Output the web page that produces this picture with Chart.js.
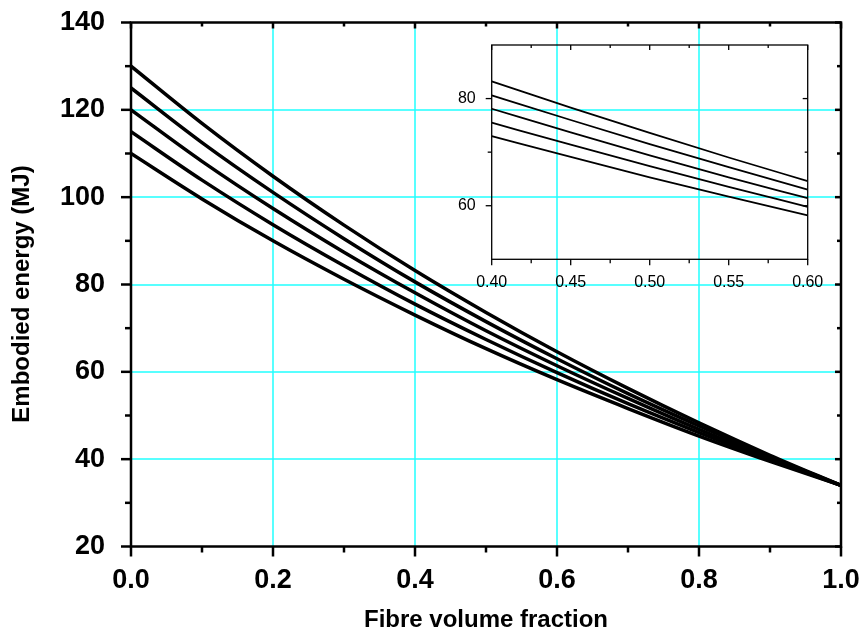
<!DOCTYPE html>
<html lang="en">
<head>
<meta charset="UTF-8">
<title>Embodied energy vs fibre volume fraction</title>
<script src="https://cdn.jsdelivr.net/npm/chart.js@4"></script>
<style>
    body {
        margin: 0;
        background: #fff;
    }
    #wrap {
        position: relative;
        width: 863px;
        height: 635px;
    }
    #main {
        position: absolute;
        left: 0;
        top: 0;
    }
    #inset {
        position: absolute;
        left: 440px;
        top: 30px;
    }
</style>
</head>
<body>

<div id="wrap">
    <canvas id="main" width="863" height="635"></canvas>
    <canvas id="inset" width="400" height="300"></canvas>
</div>

<script>
// values
const fibreFraction = [0, 0.1, 0.2, 0.3, 0.4, 0.5, 0.6, 0.7, 0.8, 0.9, 1.0];
const energy130 = [130, 116.9, 104.8, 93.6, 83.2, 73.6, 64.6, 56.2, 48.3, 40.9, 34];
const energy125 = [125, 112.5, 101.1, 90.5, 80.6, 71.5, 63.0, 55.0, 47.6, 40.6, 34];
const energy120 = [120, 108.2, 97.4, 87.4, 78.1, 69.4, 61.4, 53.9, 46.8, 40.2, 34];
const energy115 = [115, 103.9, 93.7, 84.3, 75.5, 67.4, 59.8, 52.7, 46.1, 39.9, 34];
const energy110 = [110, 99.6, 90.0, 81.2, 73.0, 65.3, 58.2, 51.6, 45.3, 39.5, 34];

// inset, 0.40 .. 0.60
const insetFraction = [0.40, 0.45, 0.50, 0.55, 0.60];
const inset130 = [83.2, 78.3, 73.6, 69.0, 64.6];
const inset125 = [80.6, 76.0, 71.5, 67.2, 63.0];
const inset120 = [78.1, 73.7, 69.4, 65.3, 61.4];
const inset115 = [75.5, 71.4, 67.4, 63.5, 59.8];
const inset110 = [73.0, 69.1, 65.3, 61.7, 58.2];

// ticks and grid
const xTicks = [0, 0.2, 0.4, 0.6, 0.8, 1.0];
const xMinor = [0.1, 0.3, 0.5, 0.7, 0.9];
const yTicks = [20, 40, 60, 80, 100, 120, 140];
const yMinor = [30, 50, 70, 90, 110, 130];
const xGrid = [0.2, 0.4, 0.6, 0.8];
const yGrid = [40, 60, 80, 100, 120];
const insetXTicks = [0.40, 0.45, 0.50, 0.55, 0.60];
const insetXMinor = [0.425, 0.475, 0.525, 0.575];
const insetYTicks = [60, 80];
const insetYMinor = [70];

const xTitle = 'Fibre volume fraction';
const yTitle = 'Embodied energy (MJ)';

const FONT = "'Liberation Sans', Arial, sans-serif";

function points(xs, ys) {
    return xs.map((x, i) => ({ x: x, y: ys[i] }));
}

function lineSet(xs, ys, width) {
    return {
        data: points(xs, ys),
        borderColor: '#000',
        borderWidth: width,
        pointRadius: 0,
        fill: false,
        cubicInterpolationMode: 'monotone'
    };
}

function noPadding(s) {
    s.paddingTop = 0;
    s.paddingBottom = 0;
    s.paddingLeft = 0;
    s.paddingRight = 0;
}

// cyan grid, drawn under the curves
const gridPlugin = {
    id: 'cyanGrid',
    beforeDatasetsDraw(chart) {
        const ctx = chart.ctx;
        const a = chart.chartArea;
        ctx.save();
        ctx.strokeStyle = '#20ffff';
        ctx.lineWidth = 1.5;
        xGrid.forEach(v => {
            const p = Math.round(chart.scales.x.getPixelForValue(v));
            ctx.beginPath();
            ctx.moveTo(p, a.top);
            ctx.lineTo(p, a.bottom);
            ctx.stroke();
        });
        yGrid.forEach(v => {
            const p = Math.round(chart.scales.y.getPixelForValue(v));
            ctx.beginPath();
            ctx.moveTo(a.left, p);
            ctx.lineTo(a.right, p);
            ctx.stroke();
        });
        ctx.restore();
    }
};

// axis titles
const titlePlugin = {
    id: 'axisTitles',
    afterDraw(chart) {
        const ctx = chart.ctx;
        const a = chart.chartArea;
        ctx.save();
        ctx.fillStyle = '#000';
        ctx.font = 'bold 24px ' + FONT;
        ctx.textAlign = 'center';
        ctx.textBaseline = 'middle';
        ctx.fillText(xTitle, (a.left + a.right) / 2, 620);
        ctx.translate(22, 294);
        ctx.rotate(-Math.PI / 2);
        ctx.fillText(yTitle, 0, 0);
        ctx.restore();
    }
};

// frame and tick marks drawn from the scales
function framePlugin(o) {
    return {
        id: 'frame',
        afterDraw(chart) {
            const ctx = chart.ctx;
            const a = chart.chartArea;
            const x = chart.scales.x;
            const y = chart.scales.y;
            ctx.save();
            ctx.strokeStyle = '#000';
            ctx.lineWidth = o.lw;
            const seg = (x1, y1, x2, y2) => {
                ctx.beginPath();
                ctx.moveTo(x1, y1);
                ctx.lineTo(x2, y2);
                ctx.stroke();
            };
            o.xMajor.forEach(v => {
                const p = x.getPixelForValue(v);
                seg(p, a.bottom, p, a.bottom + o.major);
                seg(p, a.top, p, a.top + o.inMajor);
            });
            o.xMinor.forEach(v => {
                const p = x.getPixelForValue(v);
                seg(p, a.bottom, p, a.bottom + o.minor);
                seg(p, a.top, p, a.top + o.inMinor);
            });
            o.yMajor.forEach(v => {
                const p = y.getPixelForValue(v);
                seg(a.left - o.major, p, a.left, p);
                seg(a.right, p, a.right - o.inMajor, p);
            });
            o.yMinor.forEach(v => {
                const p = y.getPixelForValue(v);
                seg(a.left - o.minor, p, a.left, p);
                seg(a.right, p, a.right - o.inMinor, p);
            });
            ctx.strokeRect(a.left, a.top, a.right - a.left, a.bottom - a.top);
            ctx.restore();
        }
    };
}

// main chart
new Chart(document.getElementById('main'), {
    type: 'line',
    data: {
        datasets: [
            lineSet(fibreFraction, energy130, 3.5),
            lineSet(fibreFraction, energy125, 3.5),
            lineSet(fibreFraction, energy120, 3.5),
            lineSet(fibreFraction, energy115, 3.5),
            lineSet(fibreFraction, energy110, 3.5)
        ]
    },
    options: {
        responsive: false,
        animation: false,
        devicePixelRatio: 1,
        layout: { padding: { top: 22.5, right: 22, left: 0, bottom: 0 } },
        plugins: { legend: { display: false }, tooltip: { enabled: false } },
        scales: {
            x: {
                type: 'linear',
                min: 0,
                max: 1,
                afterBuildTicks: s => { s.ticks = xTicks.map(v => ({ value: v })); },
                afterFit: s => { s.height = 88.5; noPadding(s); },
                border: { display: false },
                grid: { display: false },
                ticks: {
                    padding: 10,
                    color: '#000',
                    maxRotation: 0,
                    font: { family: FONT, size: 27, weight: 'bold' },
                    callback: v => Number(v).toFixed(1)
                }
            },
            y: {
                min: 20,
                max: 140,
                afterBuildTicks: s => { s.ticks = yTicks.map(v => ({ value: v })); },
                afterFit: s => { s.width = 131; noPadding(s); },
                border: { display: false },
                grid: { display: false },
                ticks: {
                    padding: 18,
                    color: '#000',
                    font: { family: FONT, size: 27, weight: 'bold' }
                }
            }
        }
    },
    plugins: [gridPlugin, titlePlugin, framePlugin({
        lw: 2.5, major: 10, minor: 6, inMajor: 6, inMinor: 4,
        xMajor: xTicks, xMinor: xMinor, yMajor: yTicks, yMinor: yMinor
    })]
});

// inset chart
new Chart(document.getElementById('inset'), {
    type: 'line',
    data: {
        datasets: [
            lineSet(insetFraction, inset130, 1.8),
            lineSet(insetFraction, inset125, 1.8),
            lineSet(insetFraction, inset120, 1.8),
            lineSet(insetFraction, inset115, 1.8),
            lineSet(insetFraction, inset110, 1.8)
        ]
    },
    options: {
        responsive: false,
        animation: false,
        devicePixelRatio: 1,
        layout: { padding: { top: 15, right: 32.3, left: 0, bottom: 0 } },
        plugins: { legend: { display: false }, tooltip: { enabled: false } },
        scales: {
            x: {
                type: 'linear',
                min: 0.4,
                max: 0.6,
                afterBuildTicks: s => { s.ticks = insetXTicks.map(v => ({ value: v })); },
                afterFit: s => { s.height = 70.7; noPadding(s); },
                border: { display: false },
                grid: { display: false },
                ticks: {
                    padding: 6,
                    color: '#000',
                    maxRotation: 0,
                    font: { family: FONT, size: 16 },
                    callback: v => Number(v).toFixed(2)
                }
            },
            y: {
                min: 50,
                max: 90,
                afterBuildTicks: s => { s.ticks = insetYTicks.map(v => ({ value: v })); },
                afterFit: s => { s.width = 51.7; noPadding(s); },
                border: { display: false },
                grid: { display: false },
                ticks: {
                    padding: 8,
                    color: '#000',
                    font: { family: FONT, size: 16 }
                }
            }
        }
    },
    plugins: [framePlugin({
        lw: 1.3, major: 6, minor: 4, inMajor: 5, inMinor: 3,
        xMajor: insetXTicks, xMinor: insetXMinor, yMajor: insetYTicks, yMinor: insetYMinor
    })]
});
</script>

</body>
</html>
